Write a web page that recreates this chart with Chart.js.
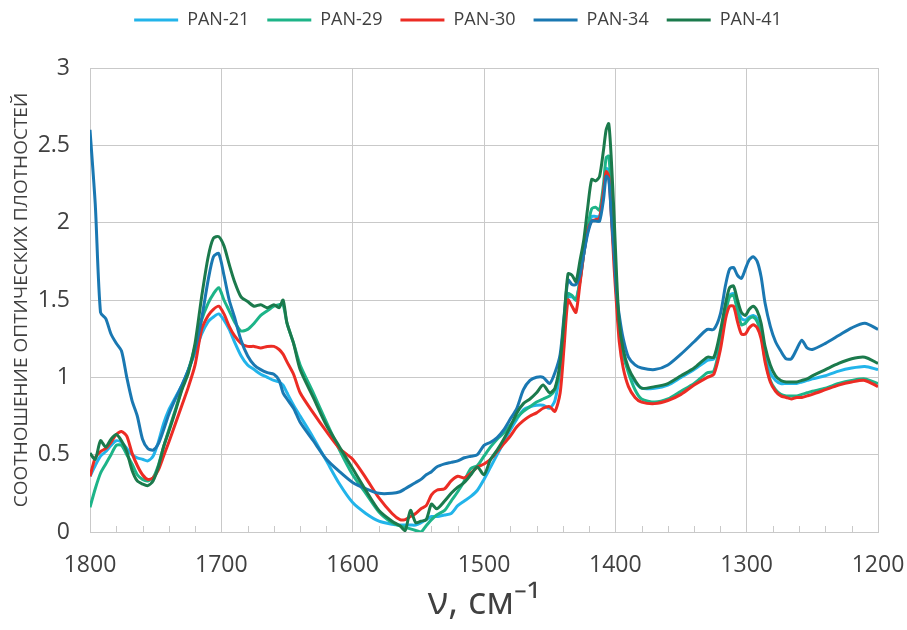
<!DOCTYPE html>
<html>
<head>
<meta charset="utf-8">
<script src="https://cdn.jsdelivr.net/npm/chart.js@4.4.0/dist/chart.umd.min.js"></script>
<style>
  html, body { margin: 0; background: #fff; }
</style>
</head>
<body>
<canvas id="spectra" width="907" height="630"></canvas>
<script>
// Волновые числа (см-1), общая сетка для всех образцов
const wavenumbers = [
  1800,1796,1792,1788,1784,1780,1776,1772,1768,1764,
  1760,1756,1752,1748,1744,1740,1735,1730,1725,1720,
  1715,1710,1706,1702,1698,1694,1690,1685,1680,1675,
  1670,1665,1660,1656,1653,1650,1645,1640,1630,1620,
  1610,1600,1590,1580,1570,1564,1560,1556,1552,1548,
  1544,1540,1536,1530,1525,1520,1515,1510,1505,1500,
  1495,1490,1485,1480,1475,1470,1465,1460,1455,1450,
  1446,1442,1439,1436,1433,1430,1427,1424,1421,1418,
  1415,1412,1409,1407,1405,1403,1401,1399,1397,1394,
  1390,1385,1380,1370,1360,1350,1340,1330,1325,1320,
  1316,1313,1310,1307,1304,1301,1298,1295,1292,1289,
  1286,1282,1278,1274,1270,1266,1262,1258,1254,1250,
  1240,1230,1220,1210,1200,
];

const pan21 = [
  0.36,0.43,0.49,0.52,0.56,0.59,0.58,0.54,0.50,0.48,
  0.47,0.46,0.49,0.58,0.70,0.79,0.87,0.95,1.05,1.16,
  1.28,1.36,1.39,1.41,1.37,1.31,1.23,1.14,1.08,1.05,
  1.02,1.00,0.98,0.97,0.95,0.90,0.82,0.75,0.61,0.46,
  0.31,0.19,0.12,0.07,0.05,0.045,0.045,0.045,0.045,0.06,
  0.08,0.10,0.10,0.11,0.12,0.17,0.20,0.23,0.27,0.34,
  0.42,0.50,0.58,0.66,0.73,0.79,0.81,0.82,0.82,0.80,
  0.85,1.05,1.35,1.52,1.52,1.50,1.62,1.80,1.95,2.04,
  2.04,2.04,2.20,2.35,2.34,2.08,1.80,1.52,1.30,1.14,
  1.05,0.97,0.93,0.93,0.95,1.00,1.05,1.11,1.12,1.27,
  1.44,1.53,1.54,1.45,1.38,1.37,1.39,1.40,1.38,1.30,
  1.15,1.03,0.98,0.96,0.96,0.96,0.96,0.97,0.98,0.99,
  1.01,1.04,1.06,1.07,1.05,
];

const pan29 = [
  0.16,0.28,0.38,0.44,0.50,0.56,0.56,0.50,0.44,0.37,
  0.34,0.33,0.35,0.43,0.55,0.66,0.79,0.93,1.05,1.20,
  1.37,1.48,1.54,1.58,1.50,1.43,1.36,1.30,1.31,1.35,
  1.40,1.43,1.46,1.47,1.47,1.35,1.22,1.08,0.90,0.71,
  0.53,0.37,0.25,0.13,0.06,0.04,0.03,0.02,0.01,0.00,
  0.04,0.08,0.11,0.14,0.20,0.26,0.33,0.41,0.43,0.49,
  0.55,0.60,0.64,0.69,0.74,0.78,0.81,0.84,0.86,0.88,
  0.92,1.05,1.35,1.54,1.53,1.50,1.62,1.80,1.97,2.09,
  2.10,2.08,2.25,2.42,2.43,2.18,1.85,1.52,1.30,1.15,
  1.03,0.92,0.86,0.84,0.86,0.91,0.96,1.03,1.04,1.22,
  1.42,1.52,1.53,1.43,1.34,1.35,1.38,1.39,1.36,1.28,
  1.12,0.98,0.92,0.89,0.88,0.88,0.88,0.89,0.90,0.91,
  0.93,0.96,0.98,0.99,0.96,
];

const pan30 = [
  0.36,0.48,0.52,0.54,0.58,0.63,0.65,0.62,0.51,0.43,
  0.37,0.34,0.35,0.40,0.49,0.58,0.70,0.82,0.94,1.08,
  1.31,1.40,1.44,1.46,1.41,1.33,1.27,1.22,1.20,1.20,
  1.19,1.20,1.20,1.18,1.15,1.10,1.02,0.90,0.77,0.65,
  0.54,0.47,0.35,0.22,0.12,0.08,0.08,0.10,0.12,0.15,
  0.17,0.24,0.27,0.28,0.33,0.36,0.35,0.38,0.42,0.44,
  0.47,0.52,0.57,0.62,0.68,0.72,0.75,0.77,0.80,0.81,
  0.78,0.90,1.20,1.50,1.46,1.42,1.60,1.80,1.95,2.01,
  2.02,2.03,2.20,2.33,2.30,2.04,1.72,1.46,1.23,1.06,
  0.94,0.87,0.84,0.83,0.85,0.89,0.95,1.00,1.02,1.18,
  1.38,1.46,1.46,1.36,1.28,1.28,1.32,1.34,1.32,1.25,
  1.10,0.97,0.91,0.88,0.87,0.86,0.87,0.87,0.88,0.89,
  0.92,0.95,0.97,0.98,0.94,
];

const pan34 = [
  2.60,2.12,1.42,1.38,1.28,1.22,1.17,1.00,0.85,0.75,
  0.60,0.54,0.53,0.57,0.66,0.76,0.86,0.95,1.05,1.18,
  1.38,1.63,1.78,1.80,1.66,1.50,1.39,1.24,1.14,1.08,
  1.05,1.03,1.02,0.98,0.90,0.86,0.80,0.71,0.59,0.47,
  0.39,0.32,0.28,0.25,0.25,0.26,0.28,0.30,0.32,0.34,
  0.37,0.39,0.42,0.44,0.45,0.46,0.48,0.49,0.50,0.56,
  0.58,0.61,0.66,0.73,0.80,0.92,0.98,1.00,1.00,0.96,
  1.03,1.15,1.40,1.63,1.60,1.60,1.66,1.80,1.93,2.01,
  2.01,2.01,2.15,2.30,2.28,2.04,1.80,1.54,1.40,1.25,
  1.13,1.08,1.06,1.05,1.08,1.15,1.23,1.31,1.31,1.41,
  1.60,1.70,1.71,1.66,1.64,1.70,1.76,1.78,1.75,1.65,
  1.48,1.33,1.23,1.17,1.12,1.12,1.18,1.24,1.19,1.18,
  1.22,1.27,1.32,1.35,1.31,
];

const pan41 = [
  0.51,0.47,0.59,0.55,0.60,0.63,0.59,0.52,0.40,0.33,
  0.31,0.30,0.33,0.42,0.55,0.65,0.78,0.92,1.03,1.22,
  1.52,1.78,1.90,1.91,1.85,1.73,1.62,1.52,1.49,1.46,
  1.47,1.45,1.47,1.45,1.50,1.35,1.22,1.05,0.87,0.69,
  0.55,0.41,0.27,0.14,0.07,0.04,0.01,0.14,0.06,0.07,
  0.08,0.18,0.15,0.20,0.25,0.29,0.32,0.37,0.42,0.37,
  0.47,0.53,0.60,0.68,0.77,0.83,0.86,0.90,0.95,0.90,
  0.93,1.10,1.38,1.67,1.66,1.62,1.75,1.89,2.10,2.28,
  2.27,2.30,2.47,2.60,2.64,2.40,2.05,1.65,1.35,1.18,
  1.06,0.98,0.93,0.94,0.96,1.01,1.06,1.13,1.13,1.30,
  1.48,1.58,1.59,1.50,1.42,1.40,1.44,1.46,1.43,1.35,
  1.20,1.08,1.01,0.98,0.97,0.97,0.97,0.98,0.99,1.01,
  1.05,1.09,1.12,1.13,1.09,
];

const seriesNames  = ['PAN-21', 'PAN-29', 'PAN-30', 'PAN-34', 'PAN-41'];
const seriesValues = [pan21, pan29, pan30, pan34, pan41];
const seriesColors = ['#22b4ea', '#1db488', '#ec2c24', '#1a78b2', '#1b7a4c'];

const GRID = '#c9c9c9';
const TEXT = '#404040';

Chart.defaults.font.family = "'Open Sans', sans-serif";
Chart.defaults.color = TEXT;

// Засечки каждые 20 см-1 внутри области построения
const minorTicks = {
  id: 'minorTicks',
  beforeDatasetsDraw(chart) {
    const { ctx, scales: { x }, chartArea } = chart;
    ctx.save();
    ctx.strokeStyle = GRID;
    ctx.lineWidth = 1;
    for (let v = 1200; v <= 1800; v += 20) {
      if (v % 100 === 0) continue;
      const px = Math.round(x.getPixelForValue(v)) + 0.5;
      ctx.beginPath();
      ctx.moveTo(px, chartArea.bottom);
      ctx.lineTo(px, chartArea.bottom - 6);
      ctx.stroke();
    }
    ctx.restore();
  },
};

// Отступ между легендой и графиком
const legendGap = {
  id: 'legendGap',
  afterInit(chart) {
    const fit = chart.legend.fit;
    chart.legend.fit = function () { fit.call(this); this.height += 29; };
  },
};

new Chart(document.getElementById('spectra'), {
  type: 'line',
  data: {
    datasets: seriesNames.map((name, i) => ({
      label: name,
      data: wavenumbers.map((w, j) => ({ x: w, y: seriesValues[i][j] })),
      borderColor: seriesColors[i],
      backgroundColor: seriesColors[i],
      borderWidth: 3,
      pointRadius: 0,
      tension: 0.25,
      borderJoinStyle: 'round',
      order: seriesNames.length - i, // PAN-41 рисуется поверх остальных
    })),
  },
  options: {
    responsive: false,
    animation: false,
    layout: { padding: { top: -7, right: 11, left: 20, bottom: 0 } },
    plugins: {
      legend: {
        position: 'top',
        labels: {
          usePointStyle: true,
          pointStyle: 'line',
          pointStyleWidth: 44,
          boxHeight: 18,
          padding: 18,
          color: TEXT,
          font: { size: 18 },
          sort: (a, b) => a.datasetIndex - b.datasetIndex,
        },
      },
      tooltip: { enabled: false },
    },
    scales: {
      x: {
        type: 'linear',
        reverse: true,
        min: 1200,
        max: 1800,
        afterFit: s => { s.height = 98; s.paddingRight = 29; },
        ticks: { stepSize: 100, padding: 20, font: { size: 23 }, color: TEXT, callback: v => String(v) },
        grid: { color: GRID, drawTicks: false },
        border: { color: GRID },
        title: { display: true, text: 'ν, см⁻¹', font: { size: 38 }, color: TEXT, padding: { bottom: 4 } },
      },
      y: {
        min: 0,
        max: 3,
        afterFit: s => { s.width = 70; },
        ticks: { stepSize: 0.5, padding: 20, font: { size: 23 }, color: TEXT, callback: v => String(v) },
        grid: { color: GRID, drawTicks: false },
        border: { color: GRID },
        title: { display: true, text: 'СООТНОШЕНИЕ ОПТИЧЕСКИХ ПЛОТНОСТЕЙ', font: { size: 19 }, color: TEXT, padding: { top: -10 } },
      },
    },
  },
  plugins: [minorTicks, legendGap],
});
</script>
</body>
</html>
